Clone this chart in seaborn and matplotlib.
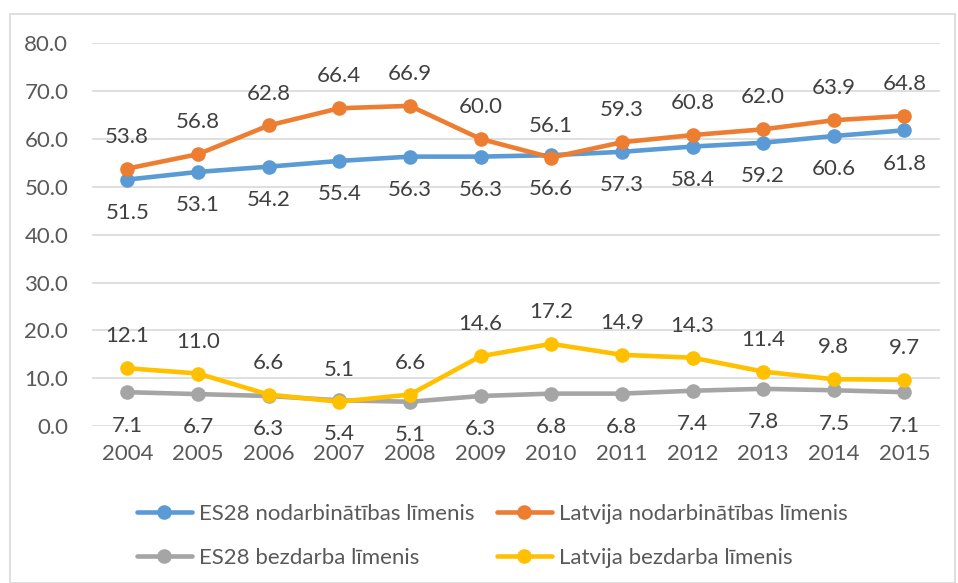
import numpy as np
import pandas as pd
import matplotlib.pyplot as plt
import seaborn as sns
from matplotlib.patches import Rectangle

years = [2004, 2005, 2006, 2007, 2008, 2009, 2010, 2011, 2012, 2013, 2014, 2015]
es28_empl = [51.5, 53.1, 54.2, 55.4, 56.3, 56.3, 56.6, 57.3, 58.4, 59.2, 60.6, 61.8]
lv_empl = [53.8, 56.8, 62.8, 66.4, 66.9, 60.0, 56.1, 59.3, 60.8, 62.0, 63.9, 64.8]
es28_unemp = [7.1, 6.7, 6.3, 5.4, 5.1, 6.3, 6.8, 6.8, 7.4, 7.8, 7.5, 7.1]
lv_unemp = [12.1, 11.0, 6.6, 5.1, 6.6, 14.6, 17.2, 14.9, 14.3, 11.4, 9.8, 9.7]

names = ["ES28 nodarbinātības līmenis", "Latvija nodarbinātības līmenis",
         "ES28 bezdarba līmenis", "Latvija bezdarba līmenis"]
series = [es28_empl, lv_empl, es28_unemp, lv_unemp]
colors = ["#5B9BD5", "#ED7D31", "#A5A5A5", "#FFC000"]
# label above (+) or below (-) the point
offsets = [-24, 23, -24, 23]

df = pd.concat([pd.DataFrame({"Gads": years, "Vērtība": v, "Rādītājs": n})
                for n, v in zip(names, series)], ignore_index=True)

sns.set_style("white")
plt.rcParams['font.family'] = ['Lato', 'DejaVu Sans']

fig = plt.figure(figsize=(9.58, 5.83), dpi=100)
ax = fig.add_axes([0.096, 0.269, 0.885, 0.657])

sns.lineplot(data=df, x="Gads", y="Vērtība", hue="Rādītājs", hue_order=names,
             palette=colors, marker="o", markersize=10.5, markeredgewidth=0,
             linewidth=3.3, ax=ax)

for vals, off in zip(series, offsets):
    for x, y in zip(years, vals):
        ax.annotate(f"{y:.1f}", (x, y), xytext=(0, off), textcoords="offset points",
                    ha="center", va="center", fontsize=16, color="#404040")

ax.set_ylim(0, 80)
ax.set_yticks(np.arange(0, 81, 10))
ax.set_yticklabels([f"{t:.1f}" for t in np.arange(0, 81, 10)])
ax.set_xlim(2003.5, 2015.5)
ax.set_xticks(years)
ax.set_xticklabels([str(y) for y in years])
ax.tick_params(axis="both", length=0, labelsize=16, labelcolor="#595959")
ax.tick_params(axis="x", pad=13)
ax.tick_params(axis="y", pad=17)
ax.yaxis.grid(True, color="#D9D9D9", linewidth=1.2)
ax.set_axisbelow(True)
for s in ax.spines.values():
    s.set_visible(False)
ax.set_xlabel("")
ax.set_ylabel("")

handles, labels = ax.get_legend_handles_labels()
order = [0, 2, 1, 3]
ax.legend([handles[i] for i in order], [labels[i] for i in order],
          loc="upper center", bbox_to_anchor=(0.472, -0.15), ncol=2,
          frameon=False, fontsize=16, handlelength=2.5, columnspacing=1.0,
          handletextpad=0.3, labelspacing=1.1, labelcolor="#595959")

fig.patches.append(Rectangle((10 / 958, 0), 945 / 958, 1 - 14 / 583, transform=fig.transFigure,
                             fill=False, edgecolor="#D9D9D9", linewidth=1.2))

fig.savefig("out.png", dpi=100)
